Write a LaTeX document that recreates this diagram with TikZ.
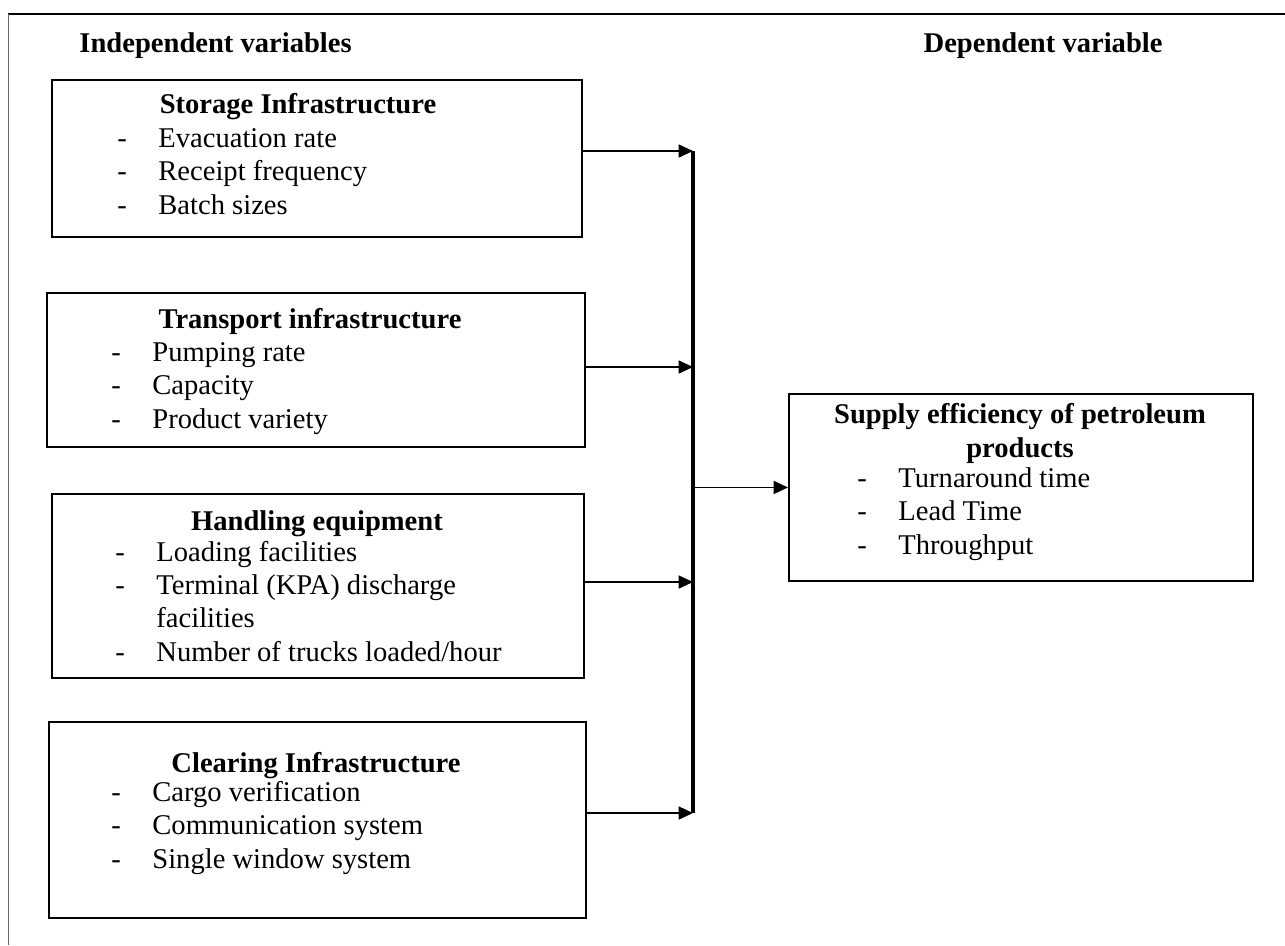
\documentclass[tikz,border=0pt]{standalone}
\usepackage{fontspec}
\setmainfont{Liberation Serif}
\usetikzlibrary{arrows.meta,calc,positioning}
\newcommand{\itm}{\makebox[17.2pt][l]{-}}

\begin{document}
\begin{tikzpicture}[x=0.42pt,y=-0.42pt,
                    every node/.style={font=\fontsize{12}{13.9}\selectfont,inner sep=0pt},
                    main node/.style={rectangle,draw,line width=0.8pt,anchor=north west},
                    title node/.style={font=\fontsize{12}{13.9}\selectfont\bfseries,anchor=base},
                    list node/.style={align=left,anchor=base west},
                    arrow/.style={-{Triangle[length=6pt,width=5.4pt]},line width=0.8pt}]

 \useasboundingbox (0,0) rectangle (1285,945);

 % frame
 \draw[line width=0.9pt] (8,14) -- (1285,14);
 \draw[line width=0.4pt,black!60] (8,14) -- (8,945);

 \node[title node,anchor=base west] (head1) at (79,52) {Independent variables};
 \node[title node,anchor=base east] (head2) at (1163,52) {Dependent variable};

 % multi-line nodes sit on the baseline of their last line
 \node[main node,minimum width=222.6pt,minimum height=65.94pt] (1) at (51,79) {};
 \node[title node] (title1) at (298,113) {Storage Infrastructure};
 \node[list node] (list1) at (117,214) {\itm Evacuation rate\\ \itm Receipt frequency\\ \itm Batch sizes};

 \node[main node,minimum width=225.96pt,minimum height=64.68pt] (2) at (46,292) {};
 \node[title node] (title2) at (310,328) {Transport infrastructure};
 \node[list node] (list2) at (111,428) {\itm Pumping rate\\ \itm Capacity\\ \itm Product variety};

 \node[main node,minimum width=223.44pt,minimum height=77.28pt] (3) at (51,493) {};
 \node[title node] (title3) at (317,530) {Handling equipment};
 \node[list node] (list3) at (115,661) {\itm Loading facilities\\ \itm Terminal (KPA) discharge\\ \hspace*{17.2pt}facilities\\ \itm Number of trucks loaded/hour};

 \node[main node,minimum width=225.54pt,minimum height=82.32pt] (4) at (48,721) {};
 \node[title node] (title4) at (316,772) {Clearing Infrastructure};
 \node[list node] (list4) at (111,868) {\itm Cargo verification\\ \itm Communication system\\ \itm Single window system};

 \node[main node,minimum width=194.88pt,minimum height=78.54pt] (5) at (788,393) {};
 \node[title node,align=center] (title5) at (1020,457) {Supply efficiency of petroleum\\products};
 \node[list node] (list5) at (857,554) {\itm Turnaround time\\ \itm Lead Time\\ \itm Throughput};

 \coordinate (a1) at (693,151);
 \coordinate (a2) at (693,367);
 \coordinate (a3) at (693,582);
 \coordinate (a4) at (693,813);

 \draw[line width=1.3pt] (a1) -- (a4);

  \path[arrow]
    (1.east |- a1) edge (a1)
    (2.east |- a2) edge (a2)
    (3.east |- a3) edge (a3)
    (4.east |- a4) edge (a4)
    (a1 |- 5.west) edge (5.west);

\end{tikzpicture}
\end{document}
